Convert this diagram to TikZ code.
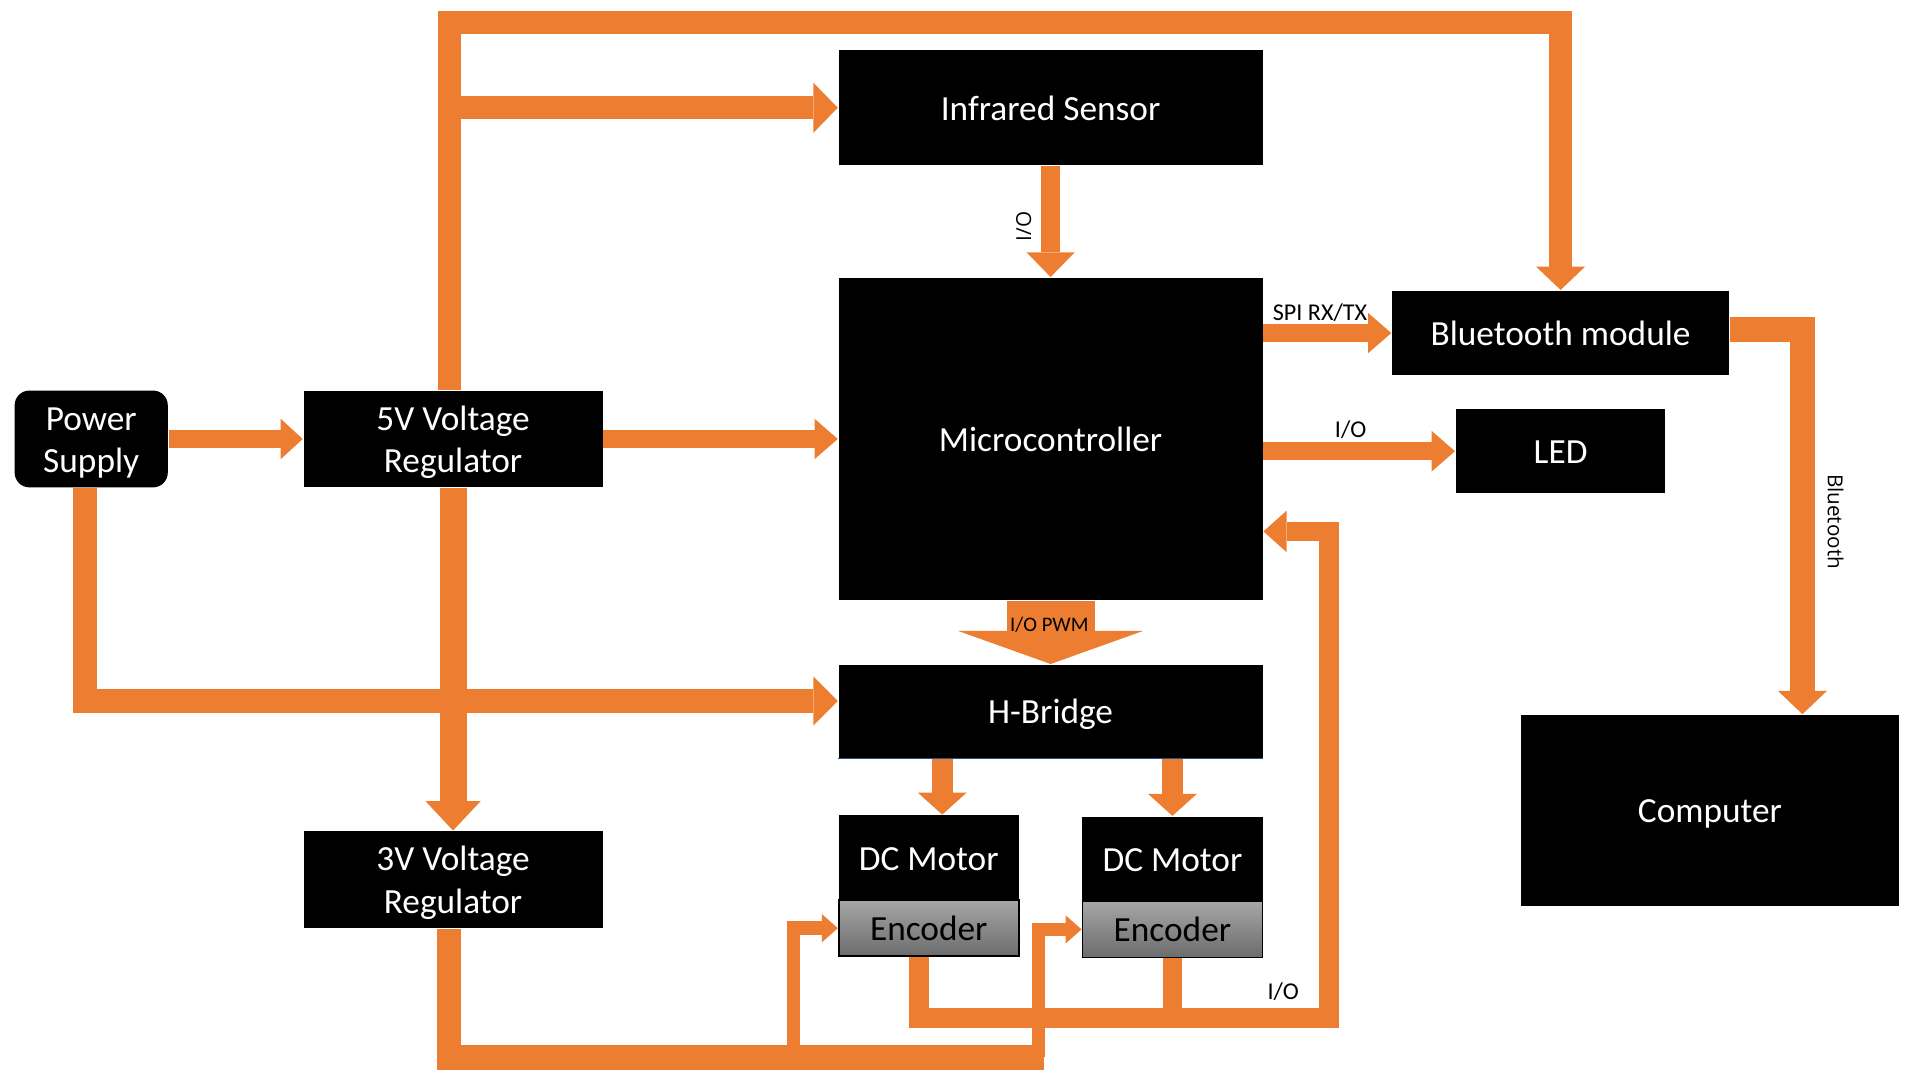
\documentclass[tikz,border=0pt]{standalone}
\usepackage{fontspec}
\setmainfont{Carlito}
\newfontfamily\labelsans{Open Sans}
\usetikzlibrary{arrows.meta,calc}

\definecolor{wireorange}{HTML}{ED7D31}
\definecolor{encgraytop}{HTML}{A6A6A6}
\definecolor{encgraybot}{HTML}{6C6C6C}
\definecolor{hbedge}{HTML}{2F528F}

\newcommand\blkstrut{\rule[-0.2em]{0pt}{1.1em}}

\tikzset{
  block/.style={fill=black, text=white, inner sep=0pt, align=center, font=\fontsize{8.2}{9.9}\selectfont,
    execute at begin node=\blkstrut, execute at end node=\blkstrut},
  encbox/.style={top color=encgraytop, bottom color=encgraybot, draw=black, line width=0.4pt, text=black, inner sep=0pt, font=\fontsize{8.2}{9.9}\selectfont,
    execute at begin node=\blkstrut, execute at end node=\blkstrut},
  wire/.style={draw=wireorange, line width=#1},
  head/.style 2 args={-{Triangle[line width=0pt, length=#1, width=#2]}},
  sig/.style={font=\fontsize{5.6}{6.7}\selectfont, inner sep=0pt},
  rotsig/.style={font=\labelsans\fontsize{4.8}{5.8}\selectfont, inner sep=0pt},
}

\begin{document}
\begin{tikzpicture}[x=0.01cm, y=-0.01cm]
  \useasboundingbox (0,0) rectangle (1568,882);

  % blocks
  \node[block, rounded corners=1.2mm, minimum width=1.25cm, minimum height=0.79cm] (supply) at (74.5,358.5) {\blkstrut Power\\Supply\blkstrut};
  \node[block, minimum width=2.44cm, minimum height=0.79cm] (reg5) at (370,358.5) {\blkstrut 5V Voltage\\Regulator\blkstrut};
  \node[block, minimum width=2.44cm, minimum height=0.79cm] (reg3) at (370,718.5) {\blkstrut 3V Voltage\\Regulator\blkstrut};
  \node[block, minimum width=3.46cm, minimum height=0.94cm] (ir) at (858,88) {Infrared Sensor};
  \node[block, minimum width=3.46cm, minimum height=2.63cm] (mcu) at (858,358.5) {Microcontroller};
  \node[block, minimum width=3.46cm, minimum height=0.76cm] (hbridge) at (858,581) {H-Bridge};
  \node[block, minimum width=1.47cm, minimum height=0.69cm] (motorA) at (758.5,700.5) {DC Motor};
  \node[encbox, minimum width=1.47cm, minimum height=0.46cm] (encA) at (758.5,758) {Encoder};
  \node[block, minimum width=1.47cm, minimum height=0.69cm] (motorB) at (957.5,701.5) {DC Motor};
  \node[encbox, minimum width=1.47cm, minimum height=0.46cm] (encB) at (957.5,759) {Encoder};
  \node[block, minimum width=2.75cm, minimum height=0.69cm] (bt) at (1274.5,272) {Bluetooth module};
  \node[block, minimum width=1.71cm, minimum height=0.69cm] (led) at (1274.5,368.5) {LED};
  \node[block, minimum width=3.09cm, minimum height=1.56cm] (pc) at (1396.5,662) {Computer};
  \draw[hbedge, line width=0.3pt] (hbridge.south west) -- (hbridge.south east);

  % bends
  \coordinate (railtop) at (367,18.5);
  \coordinate (psbend) at (69.5,572.5);
  \coordinate (btbend) at (1472,269);
  \coordinate (bus3) at (366.5,863.5);
  \coordinate (busend) at (853,863.5);
  \coordinate (tapA) at (648,863.5);
  \coordinate (tapB) at (848,863.5);
  \coordinate (fbbus) at (1085.5,831.5);
  \coordinate (fbtop) at (1085.5,434);
  \coordinate (mA) at ($(motorA.north)+(11,0)$);

  % power
  \draw[wire=1.5mm, head={1.8mm}{3.3mm}] (supply.east) -- (reg5.west);
  \draw[wire=1.5mm, head={1.9mm}{3.3mm}] (reg5.east) -- (mcu.west);
  \draw[wire=1.9mm, head={1.9mm}{4mm}] (reg5.north -| railtop) -- (railtop) -| (bt.north);
  \draw[wire=1.9mm, head={2mm}{4.1mm}] (railtop |- ir.west) -- (ir.west);
  \draw[wire=2mm, head={2mm}{4mm}] (supply.south -| psbend) -- (psbend) -- (hbridge.west |- psbend);
  \draw[wire=2.2mm, head={2.4mm}{4.5mm}] (reg5.south) -- (reg3.north);

  % signals
  \draw[wire=1.5mm, head={2mm}{3.9mm}] (ir.south) -- (mcu.north);
  \node[rotsig, rotate=90] (lblir) at (836,185) {I/O};
  \draw[wire=1.5mm, head={1.9mm}{3.3mm}] (mcu.east |- bt.west) -- (bt.west);
  \node[sig] (lblspi) at (1078,255) {SPI RX/TX};
  \draw[wire=1.5mm, head={1.9mm}{3.3mm}] (mcu.east |- led.west) -- (led.west);
  \node[sig] (lblled) at (1103,351) {I/O};
  \draw[wire=2mm, head={1.9mm}{4mm}] (bt.east |- btbend) -- (btbend) -- (btbend |- pc.north);
  \node[rotsig, rotate=-90] (lblbt) at (1499,426) {Bluetooth};
  \draw[wire=7.2mm, head={2.7mm}{15.1mm}] (mcu.south) -- (hbridge.north);
  \node[sig, font=\fontsize{4.8}{5.8}\selectfont] (lblpwm) at (857,510) {I/O PWM};

  % motors
  \draw[wire=1.7mm, head={1.8mm}{4mm}] (hbridge.south -| mA) -- (mA);
  \draw[wire=1.7mm, head={1.8mm}{4mm}] (hbridge.south -| motorB.north) -- (motorB.north);

  % encoder feedback
  \draw[wire=1.6mm, head={1.9mm}{3.4mm}] ([xshift=-0.8mm]encA.south) |- (fbbus) -- (fbtop) -- (mcu.east |- fbtop);
  \draw[wire=1.6mm] (encB.south) -- (encB.south |- fbbus);
  \node[sig] (lblfb) at (1048,810) {I/O};

  % 3V to encoders
  \draw[wire=2mm] (reg3.south -| bus3) |- (busend);
  \draw[wire=1.1mm, head={1.3mm}{2.3mm}] (tapA) |- (encA.west);
  \draw[wire=1.1mm, head={1.3mm}{2.3mm}] (tapB) |- (encB.west);
\end{tikzpicture}
\end{document}
